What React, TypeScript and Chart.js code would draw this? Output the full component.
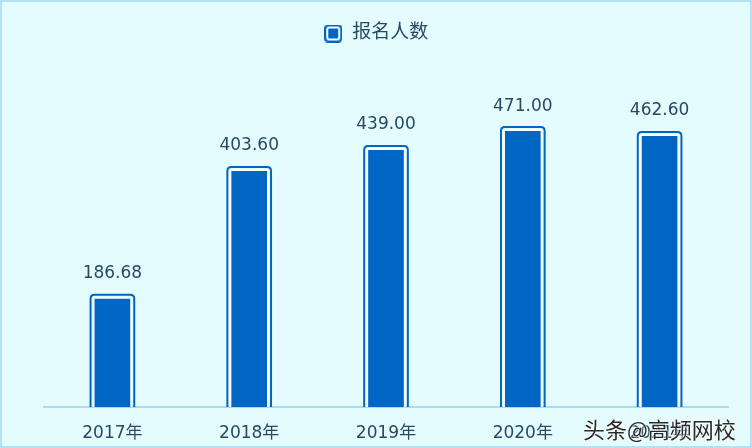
import React, { useEffect, useRef } from "react";
import { Chart, registerables } from "chart.js";
Chart.register(...registerables);

const categories = ["2017年", "2018年", "2019年", "2020年", "2021年"];
const values = [186.68, 403.6, 439.0, 471.0, 462.6];
const seriesName = "报名人数";
const watermark = "头条@高频网校";

const BLUE = "#0066c4";
const TEXT = "#264a63";
const FONT = "'DejaVu Sans', 'Noto Sans CJK SC', sans-serif";

function makeLegendIcon() {
  const c = document.createElement("canvas");
  c.width = 18;
  c.height = 18;
  const g = c.getContext("2d")!;
  const rr = (x: number, y: number, w: number, h: number, r: number) => {
    g.beginPath();
    g.moveTo(x + r, y);
    g.lineTo(x + w - r, y);
    g.quadraticCurveTo(x + w, y, x + w, y + r);
    g.lineTo(x + w, y + h - r);
    g.quadraticCurveTo(x + w, y + h, x + w - r, y + h);
    g.lineTo(x + r, y + h);
    g.quadraticCurveTo(x, y + h, x, y + h - r);
    g.lineTo(x, y + r);
    g.quadraticCurveTo(x, y, x + r, y);
    g.closePath();
  };
  g.fillStyle = BLUE;
  rr(0, 0, 18, 18, 4);
  g.fill();
  g.fillStyle = "#ffffff";
  rr(2, 2, 14, 14, 3);
  g.fill();
  g.fillStyle = BLUE;
  rr(4, 4, 10, 10, 1);
  g.fill();
  return c;
}

const outerBorderPlugin = {
  id: "outerBorder",
  afterDatasetsDraw(chart: any) {
    const ctx = chart.ctx;
    const meta = chart.getDatasetMeta(0);
    ctx.save();
    meta.data.forEach((bar: any, i: number) => {
      const { x, y, base, width } = bar.getProps(["x", "y", "base", "width"], true);
      const l = x - width / 2 - 2;
      const r = x + width / 2 + 2;
      const t = y - 2;
      const b = base;
      const rad = 4;
      ctx.beginPath();
      ctx.moveTo(l, b);
      ctx.lineTo(l, t + rad);
      ctx.quadraticCurveTo(l, t, l + rad, t);
      ctx.lineTo(r - rad, t);
      ctx.quadraticCurveTo(r, t, r, t + rad);
      ctx.lineTo(r, b);
      ctx.strokeStyle = BLUE;
      ctx.lineWidth = 2;
      ctx.stroke();
      ctx.fillStyle = TEXT;
      ctx.font = `17px ${FONT}`;
      ctx.textAlign = "center";
      ctx.textBaseline = "middle";
      ctx.fillText(values[i].toFixed(2), x, t - 21);
    });
    ctx.restore();
  },
};

export default function App() {
  const ref = useRef<HTMLCanvasElement>(null);
  useEffect(() => {
    document.body.style.margin = "0";
    const icon = makeLegendIcon();
    const chart = new Chart(ref.current!, {
      type: "bar",
      data: {
        labels: categories,
        datasets: [
          {
            label: seriesName,
            data: values,
            backgroundColor: BLUE,
            borderColor: "#ffffff",
            borderWidth: 2,
            borderRadius: { topLeft: 2, topRight: 2, bottomLeft: 0, bottomRight: 0 },
            borderSkipped: "bottom",
            categoryPercentage: 1,
            barPercentage: 0.29,
          },
        ],
      },
      options: {
        animation: false,
        responsive: false,
        layout: { padding: { left: 24, right: 24, top: 14, bottom: -12 } },
        plugins: {
          tooltip: { enabled: false },
          legend: {
            display: true,
            position: "top",
            labels: {
              font: { size: 19, family: FONT },
              color: TEXT,
              usePointStyle: true,
              padding: 10,
              generateLabels: () => [
                {
                  text: seriesName,
                  fillStyle: BLUE,
                  strokeStyle: BLUE,
                  lineWidth: 0,
                  fontColor: TEXT,
                  pointStyle: icon,
                  datasetIndex: 0,
                } as any,
              ],
            },
          },
        },
        scales: {
          x: {
            grid: { display: false, drawTicks: false },
            border: { display: true, color: "#a9dcef", width: 2 },
            ticks: { font: { size: 17, family: FONT, lineHeight: 1 }, color: TEXT, padding: 18 },
          },
          y: {
            display: true,
            min: 0,
            max: 600,
            grid: { display: false, drawTicks: false },
            border: { display: false },
            ticks: { display: false },
            afterFit: (s: any) => {
              s.width = 20;
            },
          },
        },
      },
      plugins: [outerBorderPlugin],
    });
    return () => chart.destroy();
  }, []);
  return (
    <div
      style={{
        position: "absolute",
        left: 0,
        top: 0,
        width: 752,
        height: 448,
        boxSizing: "border-box",
        border: "2px solid #b4e2f6",
        background: "#e4fcfe",
      }}
    >
      <canvas ref={ref} width={752} height={448} style={{ position: "absolute", left: -2, top: -2 }} />
      <div
        style={{
          position: "absolute",
          left: 581,
          top: 410,
          fontFamily: "'Noto Sans CJK SC', sans-serif",
          fontSize: 22,
          color: "#2a2a2a",
          textShadow: "0 0 2px #fff, 0 0 2px #fff, 0 0 1px #fff",
        }}
      >
        {watermark}
      </div>
    </div>
  );
}
